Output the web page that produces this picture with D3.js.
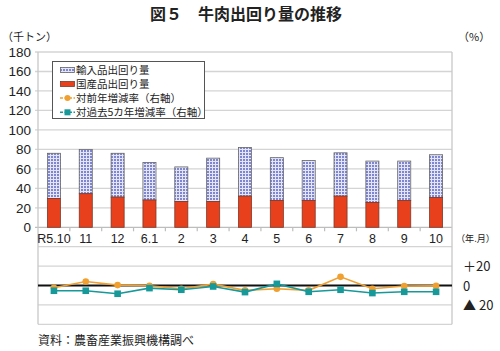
<!DOCTYPE html>
<html><head><meta charset="utf-8">
<script src="https://cdn.jsdelivr.net/npm/d3@7"></script>
<style>
body{margin:0;background:#fff;}
svg{display:block;font-family:"Liberation Sans",Arial,"Noto Sans CJK JP",sans-serif;}
.jp{font-family:"Noto Sans CJK JP",sans-serif;}
</style></head>
<body><svg id="c" width="500" height="351"></svg>
<script>
const categories = ["R5.10","11","12","6.1","2","3","4","5","6","7","8","9","10"];
const domestic = [29.5,34.5,31,28,26.5,26.5,32,27.5,27.5,32,25.5,27.5,30.5];
const imported = [46.5,45.5,45,38.5,35.5,44.5,50,44,41,44.5,42.5,40.5,44];
const yoyRate = [-2.4,4.1,0.4,-0.3,-3.5,1.4,-5,-3.4,-5,8.9,-3.4,-0.5,-0.4];
const fiveYearRate = [-5.4,-5.4,-8.5,-2.7,-4.4,-1,-6.8,1.7,-6.5,-4.4,-7.8,-6.5,-6.5];
const leftTicks = [0,20,40,60,80,100,120,140,160,180];
const rightTicks = [20,0,-20];
const rightTickLabels = ["＋20","0","▲ 20"];
const legendLabels = ["輸入品出回り量","国産品出回り量","対前年増減率（右軸）","対過去5カ年増減率（右軸）"];

const svg = d3.select("#c");
const X0 = 38, X1 = 452;
const x = d3.scaleBand().domain(categories).range([X0, X1]).padding(0);
const yL = d3.scaleLinear().domain([0,180]).range([227.3,52]);
const yR = d3.scaleLinear().domain([-40,40]).range([324.3,246.7]);
const bw = x.bandwidth()*0.41;

const defs = svg.append("defs");
const pat = defs.append("pattern").attr("id","grid").attr("patternUnits","userSpaceOnUse")
  .attr("width",3).attr("height",3);
pat.append("rect").attr("width",3).attr("height",3).attr("fill","#e4e6f8");
pat.append("rect").attr("width",2).attr("height",2).attr("fill","#7e86d2");

// title
svg.append("text").attr("class","jp").attr("x",246).attr("y",20).attr("text-anchor","middle")
  .attr("font-size",16).attr("font-weight","bold").attr("fill","#222").text("図５　牛肉出回り量の推移");
svg.append("text").attr("class","jp").attr("x",2).attr("y",41).attr("font-size",11).attr("fill","#222").text("（千トン）");
svg.append("text").attr("class","jp").attr("x",458).attr("y",41).attr("font-size",11).attr("fill","#222").text("（%）");

// upper gridlines
svg.append("g").selectAll("line").data(leftTicks.filter(d=>d>0)).join("line")
  .attr("x1",X0-3).attr("x2",X1).attr("y1",d=>yL(d)).attr("y2",d=>yL(d))
  .attr("stroke","#d4d4d4").attr("stroke-width",1.3);
// left axis labels
svg.append("g").selectAll("text").data(leftTicks).join("text")
  .attr("x",31).attr("y",d=>yL(d)+5).attr("text-anchor","end").attr("font-size",13.5).attr("fill","#222")
  .text(d=>d);
// zero line upper
svg.append("line").attr("x1",X0-3).attr("x2",X1).attr("y1",yL(0)).attr("y2",yL(0)).attr("stroke","#bdbdbd").attr("stroke-width",1.3);
// x ticks
svg.append("g").selectAll("line").data(categories.slice(1)).join("line")
  .attr("x1",d=>x(d)).attr("x2",d=>x(d)).attr("y1",yL(0)).attr("y2",yL(0)+4).attr("stroke","#bdbdbd").attr("stroke-width",1.2);
// lower panel gridlines
svg.append("g").selectAll("line").data([40,20,-20,-40]).join("line")
  .attr("x1",X0).attr("x2",X1).attr("y1",d=>yR(d)).attr("y2",d=>yR(d))
  .attr("stroke","#d4d4d4").attr("stroke-width",1.3);
// verticals
svg.append("line").attr("x1",X0).attr("x2",X0).attr("y1",yL(180)).attr("y2",yR(-40)).attr("stroke","#c8c8c8").attr("stroke-width",1.3);
svg.append("line").attr("x1",X1).attr("x2",X1).attr("y1",yL(180)).attr("y2",yR(-40)).attr("stroke","#c8c8c8").attr("stroke-width",1.3);

// category labels
svg.append("g").selectAll("text").data(categories).join("text")
  .attr("x",d=>x(d)+x.bandwidth()/2).attr("y",243).attr("text-anchor","middle").attr("font-size",12.5).attr("fill","#222")
  .text(d=>d);
svg.append("text").attr("class","jp").attr("x",456).attr("y",242).attr("font-size",9.5).attr("fill","#222")
  .attr("textLength",39).attr("lengthAdjust","spacingAndGlyphs").text("（年.月）");

// bars
const bars = svg.append("g");
categories.forEach((c,i)=>{
  const cx = x(c)+x.bandwidth()/2;
  bars.append("rect").attr("x",cx-bw/2).attr("width",bw).attr("y",yL(domestic[i]+imported[i]))
    .attr("height",yL(domestic[i])-yL(domestic[i]+imported[i])).attr("fill","url(#grid)").attr("stroke","#666").attr("stroke-width",0.8);
  bars.append("rect").attr("x",cx-bw/2).attr("width",bw).attr("y",yL(domestic[i]))
    .attr("height",yL(0)-yL(domestic[i])).attr("fill","#e8401c").attr("stroke","#7a3a2a").attr("stroke-width",0.8);
});

// lower zero line
svg.append("line").attr("x1",X0).attr("x2",X1).attr("y1",yR(0)).attr("y2",yR(0)).attr("stroke","#111").attr("stroke-width",1.8);

// right labels
svg.append("g").selectAll("text").data(rightTicks).join("text")
  .attr("class","jp").attr("x",463).attr("y",d=>yR(d)+5).attr("font-size",13).attr("fill","#222")
  .text((d,i)=>rightTickLabels[i]);

// lines
const cxf = (d,i)=>x(categories[i])+x.bandwidth()/2;
const lineGen = d3.line().x(cxf).y(d=>yR(d));
const orange = "#f0a030", teal = "#17999a";
svg.append("path").datum(yoyRate).attr("d",lineGen).attr("fill","none").attr("stroke",orange).attr("stroke-width",1.6);
svg.append("g").selectAll("circle").data(yoyRate).join("circle")
  .attr("cx",cxf).attr("cy",d=>yR(d)).attr("r",3.3).attr("fill",orange);
svg.append("path").datum(fiveYearRate).attr("d",lineGen).attr("fill","none").attr("stroke",teal).attr("stroke-width",1.6);
svg.append("g").selectAll("rect").data(fiveYearRate).join("rect")
  .attr("x",(d,i)=>cxf(d,i)-3.3).attr("y",d=>yR(d)-3.3).attr("width",6.6).attr("height",6.6).attr("fill",teal);

// legend
const lg = svg.append("g");
lg.append("rect").attr("x",52.5).attr("y",61.5).attr("width",152).attr("height",57).attr("fill","#fff").attr("stroke","#555").attr("stroke-width",1);
const rows = [70,84,98,112.3];
lg.append("rect").attr("x",60.5).attr("y",rows[0]-2.5).attr("width",14).attr("height",5).attr("fill","url(#grid)").attr("stroke","#666").attr("stroke-width",0.8);
lg.append("rect").attr("x",60.5).attr("y",rows[1]-2.5).attr("width",14).attr("height",5).attr("fill","#e8401c").attr("stroke","#7a3a2a").attr("stroke-width",0.8);
lg.append("line").attr("x1",60).attr("x2",75).attr("y1",rows[2]).attr("y2",rows[2]).attr("stroke",orange).attr("stroke-width",1.5).attr("stroke-dasharray","3,1.5");
lg.append("circle").attr("cx",67.5).attr("cy",rows[2]).attr("r",3).attr("fill",orange);
lg.append("line").attr("x1",60).attr("x2",75).attr("y1",rows[3]).attr("y2",rows[3]).attr("stroke",teal).attr("stroke-width",1.5).attr("stroke-dasharray","3,1.5");
lg.append("rect").attr("x",64.5).attr("y",rows[3]-3).attr("width",6).attr("height",6).attr("fill",teal);
lg.selectAll("text").data(legendLabels).join("text").attr("class","jp")
  .attr("x",76).attr("y",(d,i)=>rows[i]+4).attr("font-size",10.5).attr("fill","#222").text(d=>d);

// source
svg.append("text").attr("class","jp").attr("x",38).attr("y",345).attr("font-size",12).attr("fill","#222").text("資料：農畜産業振興機構調べ");
</script></body></html>
